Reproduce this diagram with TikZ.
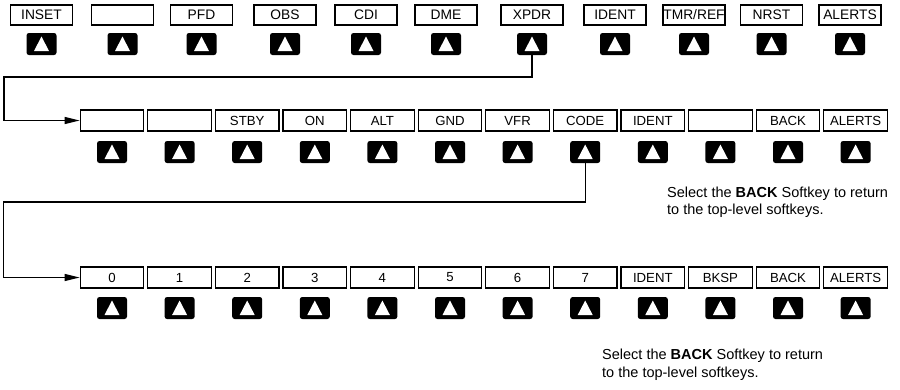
\documentclass[tikz,border=0pt]{standalone}
\usepackage{fontspec}
\setmainfont{Liberation Sans}
\usetikzlibrary{arrows.meta}
\begin{document}
\begin{tikzpicture}[x=1pt,y=-1pt,
  boxA/.style={draw, line width=1.2pt, minimum width=62pt, minimum height=20pt, inner sep=0pt, font=\fontsize{13.8}{14}\selectfont},
  boxB/.style={draw, line width=1.2pt, minimum width=63.5pt, minimum height=21pt, inner sep=0pt, font=\fontsize{13.2}{14}\selectfont},
  skey/.style={fill=black, rounded corners=2.5pt, minimum width=30pt, minimum height=22pt, inner sep=0pt,
    path picture={\fill[white, sharp corners] ([shift={(-7.5pt,-7pt)}]path picture bounding box.center) -- ++(15pt,0pt) -- ++(-7.5pt,14.5pt) -- cycle;}},
  conn/.style={line width=1.2pt, -{Triangle[length=15pt,width=7pt]}},
  note/.style={anchor=north west, inner sep=0pt, align=left, font=\fontsize{14.5}{17.5}\selectfont}]
\useasboundingbox (0,0) rectangle (900,389);
% row 1
\foreach \i/\x/\t in {1/41.5/INSET, 2/122.5/{}, 3/201.5/PFD, 4/285/OBS, 5/366/CDI, 6/446/DME, 7/532/XPDR, 8/615/IDENT, 9/694/{TMR/REF}, 10/771.5/NRST, 11/850/ALERTS}{
  \node[boxA] (r1b\i) at (\x,15) {\t};
  \node[skey] (r1k\i) at (\x,44) {};
}
% row 2
\foreach \i/\t in {1/{}, 2/{}, 3/STBY, 4/ON, 5/ALT, 6/GND, 7/VFR, 8/CODE, 9/IDENT, 10/{}, 11/BACK, 12/ALERTS}{
  \node[boxB] (r2b\i) at ({112+67.6*(\i-1)},120.5) {\t};
  \node[skey] (r2k\i) at ({112+67.6*(\i-1)},152) {};
}
% row 3
\foreach \i/\t in {1/0, 2/1, 3/2, 4/3, 5/4, 6/5, 7/6, 8/7, 9/IDENT, 10/BKSP, 11/BACK, 12/ALERTS}{
  \node[boxB] (r3b\i) at ({112+67.6*(\i-1)},277.5) {\t};
  \node[skey] (r3k\i) at ({112+67.6*(\i-1)},308) {};
}
% connectors
\coordinate (j1) at (4,77);
\draw[conn] (r1k7.south) |- (j1) |- (r2b1.west);
\coordinate (j2) at (3.5,202);
\draw[conn] (r2k8.south) |- (j2) |- (r3b1.west);
% notes
\node[note] (n1) at (667,186.5) {Select the \textbf{BACK} Softkey to return\\to the top-level softkeys.};
\node[note] (n2) at (602,349) {Select the \textbf{BACK} Softkey to return\\to the top-level softkeys.};
\end{tikzpicture}
\end{document}
